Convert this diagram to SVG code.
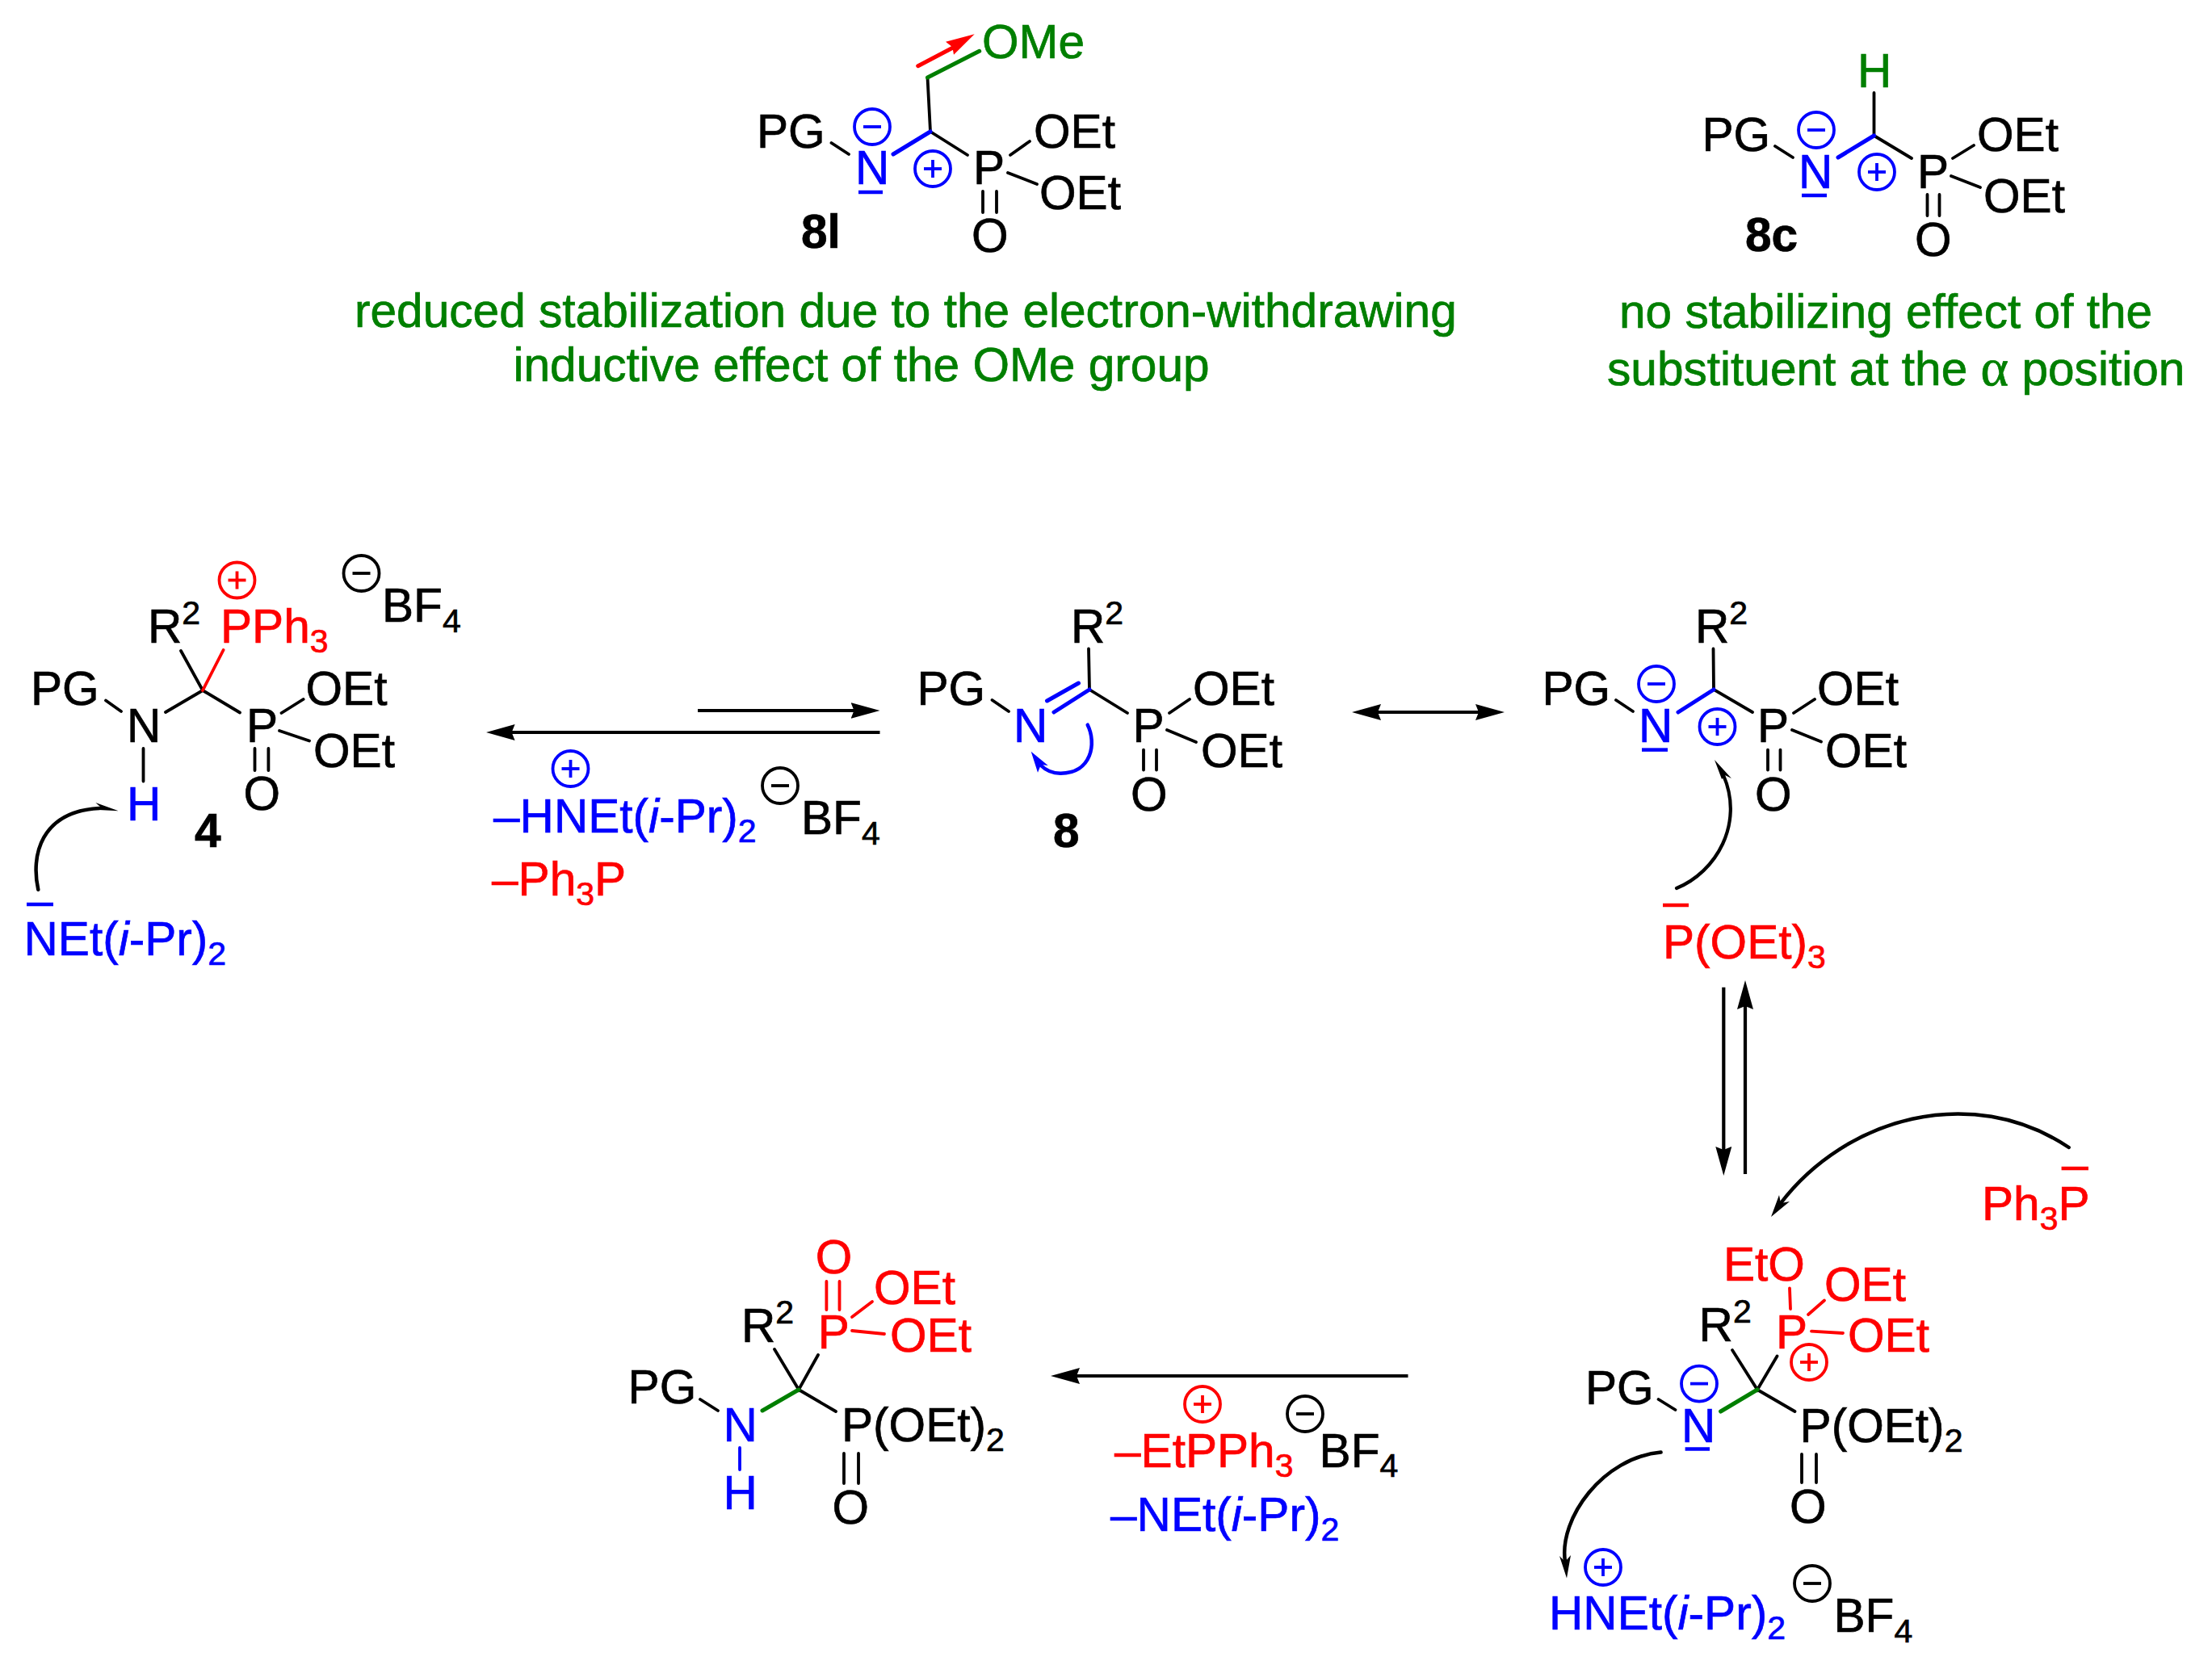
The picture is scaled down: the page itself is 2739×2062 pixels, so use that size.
<svg xmlns="http://www.w3.org/2000/svg" width="2739" height="2062" viewBox="0 0 2739 2062">
<style>
text{font-family:"Liberation Sans",Arial,sans-serif;font-size:58.6px;fill:#000;stroke:#000;stroke-width:.7}
.bold{font-weight:bold}
.blue{fill:#00f;color:#00f;stroke:#00f}
.red{fill:#f00;color:#f00;stroke:#f00}
.green{fill:#007f00;color:#007f00;stroke:#007f00}
.blk{color:#000}
.s{font-size:41px}
.i{font-style:italic}
.a{font-family:"Liberation Serif",serif;font-size:66px}
path{fill:none;stroke:#000;stroke-width:3.8;stroke-linecap:round}
.lb{stroke:#00f;stroke-width:5}
.lbt{stroke:#00f}
.lr{stroke:#f00}
.lg{stroke:#007f00;stroke-width:5}
.bar{stroke-linecap:butt;stroke-width:4.5}
.arw{stroke-width:4.2;stroke-linecap:butt}
.hd{fill:#000;stroke:none}
.hdb{fill:#00f;stroke:none}
.hdr{fill:#f00;stroke:none}
</style>
<defs>
<g id="plus"><circle r="22" fill="none" stroke="currentColor" stroke-width="3.8"/><line x1="-11" x2="11" stroke="currentColor" stroke-width="3.8"/><line y1="-11" y2="11" stroke="currentColor" stroke-width="3.8"/></g>
<g id="minus"><circle r="22" fill="none" stroke="currentColor" stroke-width="3.8"/><line x1="-11" x2="11" stroke="currentColor" stroke-width="3.8"/></g>
<marker id="h" markerUnits="userSpaceOnUse" markerWidth="36" markerHeight="20" viewBox="0 0 36 20" refX="24" refY="10" orient="auto-start-reverse"><path d="M36 10L0 0L4 10L0 20Z" class="hd"/></marker>
</defs>

<g id="node-8l">
<path d="M1029.5 177L1051 191M1152 163L1198 192M1152 163L1148.5 96M1251 192L1275 175M1248 214L1284 228M1217 237V263M1234 237V263"/>
<path class="lb" d="M1106 191L1152 163"/>
<path class="lg" d="M1148.5 96L1212.7 63.3"/>
<path class="lb bar" d="M1063 238H1093"/>
<text x="937" y="183">PG</text>
<text class="blue" x="1059" y="228">N</text>
<use href="#minus" class="blue" x="1080" y="157"/>
<use href="#plus" class="blue" x="1155" y="209"/>
<text class="green" x="1216" y="72">OMe</text>
<text x="1205" y="228">P</text>
<text x="1280" y="183">OEt</text>
<text x="1287" y="259">OEt</text>
<text x="1203" y="312">O</text>
<text class="bold" x="992" y="307">8l</text>
</g>

<g id="node-8c">
<path d="M2320.5 115V168M2198 181L2220 195M2320.5 168L2367 196M2418 196L2444 180M2416 218L2452 232M2386.5 241V267M2401.5 241V267"/>
<path class="lb" d="M2276 195L2320.5 168"/>
<path class="lb bar" d="M2231 242H2262"/>
<text class="green" x="2300" y="108">H</text>
<text x="2107.5" y="187">PG</text>
<text class="blue" x="2227" y="233">N</text>
<use href="#minus" class="blue" x="2249" y="161"/>
<use href="#plus" class="blue" x="2324" y="213"/>
<text x="2374" y="233">P</text>
<text x="2448" y="187">OEt</text>
<text x="2456" y="263">OEt</text>
<text x="2371" y="317">O</text>
<text class="bold" x="2161" y="311">8c</text>
</g>

<g id="notes">
<text class="green" x="439" y="405">reduced stabilization due to the electron-withdrawing</text>
<text class="green" x="635.5" y="472">inductive effect of the OMe group</text>
<text class="green" x="2005" y="406">no stabilizing effect of the</text>
<text class="green" x="1990" y="477">substituent at the <tspan class="a">α</tspan> position</text>
</g>

<g id="node-4">
<path d="M131 867.5L150 881M205 882L251 855L297 882.5M224 806L251 855M348.5 883L375.6 866M346 905L383 917.5M315.5 927V954M332.4 927V954M177.5 927V967.5"/>
<path class="lr" d="M276.6 805L251 855"/>
<text x="38" y="873">PG</text>
<text x="157" y="918.6">N</text>
<text x="183" y="796">R<tspan class="s" dy="-23">2</tspan></text>
<text class="red" x="273" y="796">PPh<tspan class="s" dy="12">3</tspan></text>
<use href="#plus" class="red" x="293.5" y="718.5"/>
<use href="#minus" class="blk" x="447.5" y="710"/>
<text x="473" y="770">BF<tspan class="s" dy="13">4</tspan></text>
<text x="305" y="918.6">P</text>
<text x="378.5" y="873">OEt</text>
<text x="388" y="949.6">OEt</text>
<text x="301.5" y="1003">O</text>
<text class="blue" x="157" y="1016.4">H</text>
<text class="bold" x="241" y="1049">4</text>
</g>

<g id="base-net">
<path class="lb bar" d="M33 1120H66"/>
<text class="blue" x="29.5" y="1183">NEt(<tspan class="i">i</tspan>-Pr)<tspan class="s" dy="12">2</tspan></text>
</g>

<g id="byproducts-4">
<use href="#plus" class="blue" x="706.5" y="952"/>
<use href="#minus" class="blk" x="966" y="973"/>
<text class="blue" x="611" y="1030.7">–HNEt(<tspan class="i">i</tspan>-Pr)<tspan class="s" dy="12">2</tspan></text>
<text x="992" y="1033">BF<tspan class="s" dy="13">4</tspan></text>
<text class="red" x="609" y="1109">–Ph<tspan class="s" dy="12">3</tspan><tspan dy="-12">P</tspan></text>
</g>

<g id="node-8">
<path d="M1228.5 867L1249 881M1348 803.5L1349 854L1396 883M1448 883L1473 866M1445 904L1481 919M1416 928.6V953.6M1432 928.6V953.6"/>
<path class="lb" d="M1305 882L1349 854M1296.5 868L1335.5 846"/>
<text x="1135.5" y="873">PG</text>
<text class="blue" x="1255" y="919">N</text>
<text x="1326" y="796">R<tspan class="s" dy="-23">2</tspan></text>
<text x="1402.5" y="919">P</text>
<text x="1477" y="873">OEt</text>
<text x="1487" y="950">OEt</text>
<text x="1400" y="1003.6">O</text>
<text class="bold" x="1304" y="1049">8</text>
</g>

<g id="node-8-resonance">
<path d="M2001 867L2022 881M2121.5 803.5L2122 854L2170 882M2221 883L2247 866M2219 904L2255 918.6M2189 928.6V953.6M2204.5 928.6V953.6"/>
<path class="lb" d="M2078 882L2122 854"/>
<path class="lb bar" d="M2033 928.6H2065"/>
<text x="1909.5" y="873">PG</text>
<text class="blue" x="2029" y="919">N</text>
<use href="#minus" class="blue" x="2051" y="847"/>
<use href="#plus" class="blue" x="2126.5" y="900"/>
<text x="2099" y="796">R<tspan class="s" dy="-23">2</tspan></text>
<text x="2176" y="919">P</text>
<text x="2250" y="873">OEt</text>
<text x="2260" y="950">OEt</text>
<text x="2173" y="1003.6">O</text>
</g>

<g id="phosphite">
<path class="lr bar" d="M2059 1121H2091"/>
<text class="red" x="2059" y="1187">P(OEt)<tspan class="s" dy="12">3</tspan></text>
</g>

<g id="phosphine">
<path class="lr bar" d="M2552.6 1447H2586"/>
<text class="red" x="2454" y="1511">Ph<tspan class="s" dy="12">3</tspan><tspan dy="-12">P</tspan></text>
</g>

<g id="node-phosphonium">
<path d="M2053.6 1733L2074.5 1746M2145 1672L2176 1721L2200.5 1679.5M2176 1721L2222.5 1748M2231 1801V1836M2249 1801V1836"/>
<path class="lr" d="M2216 1595.5L2217 1621M2239 1628L2259 1610.5M2243 1648.6L2282 1651"/>
<path class="lg" d="M2130.6 1748L2176 1721"/>
<path class="lb bar" d="M2086.6 1794.5H2117"/>
<text class="red" x="2134" y="1586">EtO</text>
<text class="red" x="2259" y="1611">OEt</text>
<text class="red" x="2199" y="1670">P</text>
<text class="red" x="2288" y="1674">OEt</text>
<use href="#plus" class="red" x="2240" y="1687"/>
<text x="2103.6" y="1661">R<tspan class="s" dy="-23">2</tspan></text>
<text x="1963" y="1739">PG</text>
<text class="blue" x="2082" y="1786">N</text>
<use href="#minus" class="blue" x="2104" y="1713.6"/>
<text x="2228.6" y="1785.5">P(OEt)<tspan class="s" dy="12">2</tspan></text>
<text x="2216" y="1886">O</text>
</g>

<g id="byproducts-phosphonium">
<use href="#plus" class="blue" x="1985" y="1941"/>
<use href="#minus" class="blk" x="2244" y="1961"/>
<text class="blue" x="1918" y="2018">HNEt(<tspan class="i">i</tspan>-Pr)<tspan class="s" dy="12">2</tspan></text>
<text x="2270.5" y="2020.5">BF<tspan class="s" dy="13">4</tspan></text>
</g>

<g id="node-product">
<path d="M867 1733L889 1747M959 1671L989 1721L1013 1678M989 1721L1035 1748M1045 1800V1837M1063 1800V1837"/>
<path class="lr" d="M1023.4 1587V1622M1039.5 1587V1622M1055 1631L1080 1612M1055 1648L1095 1652"/>
<path class="lg" d="M944 1747L989 1721"/>
<path class="lbt" d="M916 1793V1820"/>
<text class="red" x="1009.7" y="1577">O</text>
<text class="red" x="1082" y="1615">OEt</text>
<text class="red" x="1012.7" y="1670">P</text>
<text class="red" x="1102" y="1674">OEt</text>
<text x="918" y="1662">R<tspan class="s" dy="-23">2</tspan></text>
<text x="777.6" y="1738">PG</text>
<text class="blue" x="895.5" y="1785">N</text>
<text x="1042" y="1785">P(OEt)<tspan class="s" dy="12">2</tspan></text>
<text x="1030.5" y="1887">O</text>
<text class="blue" x="895.5" y="1869">H</text>
</g>

<g id="byproducts-product">
<use href="#plus" class="red" x="1489" y="1739"/>
<use href="#minus" class="blk" x="1616" y="1751"/>
<text class="red" x="1380" y="1817">–EtPPh<tspan class="s" dy="12">3</tspan></text>
<text x="1633.6" y="1817">BF<tspan class="s" dy="12">4</tspan></text>
<text class="blue" x="1375" y="1896">–NEt(<tspan class="i">i</tspan>-Pr)<tspan class="s" dy="12">2</tspan></text>
</g>

<g id="connectors">
<path class="arw" d="M864 880H1077.5" marker-end="url(#h)"/>
<path class="arw" d="M1089.5 907H613.6" marker-end="url(#h)"/>
<path class="arw" d="M1686 882H1851" marker-start="url(#h)" marker-end="url(#h)"/>
<path class="arw" d="M2134.3 1222.7V1444" marker-end="url(#h)"/>
<path class="arw" d="M2161 1454V1226" marker-end="url(#h)"/>
<path class="arw" d="M1743.5 1704H1313" marker-end="url(#h)"/>
<path class="lr" style="stroke-width:5" d="M1136.7 81.7L1180 59"/>
<path class="hdr" d="M1206.7 42.3L1171 51.7L1179.3 58.3L1181 67.7Z"/>
<path style="stroke-width:4.5" d="M47.3 1101.7C38 1060 50 1005 123 1001"/>
<path class="hd" d="M146.7 1004.3L118.3 994L124 999L122 1003Z"/>
<path style="stroke:#00f;stroke-width:4.5" d="M1346.7 897.7C1358 920 1352 958 1313 957.7C1302 957.7 1294 953 1289 948"/>
<path class="hdb" d="M1276.7 930.7L1297.7 948L1289 947L1285 956.7Z"/>
<path style="stroke-width:4.2" d="M2076 1100C2125 1080 2160 1020 2134 960"/>
<path class="hd" d="M2123 941L2144 964L2136 960L2132 965Z"/>
<path style="stroke-width:4.5" d="M2561.7 1421C2440 1340 2285 1385 2205 1490"/>
<path class="hd" d="M2193 1507L2203 1480L2205 1490L2216 1488Z"/>
<path style="stroke-width:4.5" d="M2056.6 1798.6C1985 1805 1930 1880 1938 1934"/>
<path class="hd" d="M1940 1954.5L1931 1927L1938 1934L1945 1926Z"/>
</g>
</svg>
